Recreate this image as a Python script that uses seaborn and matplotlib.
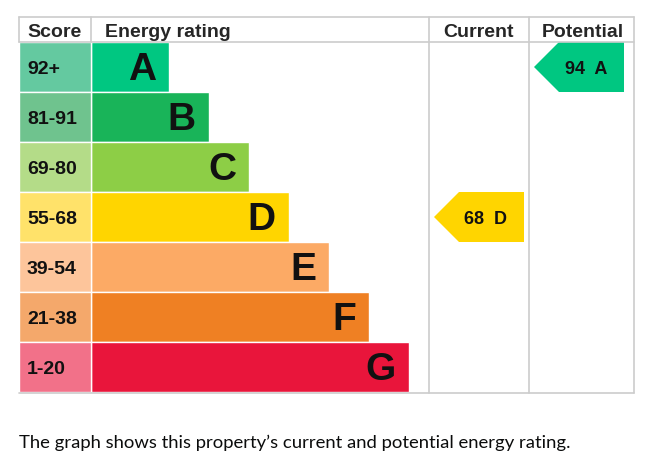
import matplotlib
matplotlib.use("Agg")
import matplotlib.pyplot as plt
import seaborn as sns
from matplotlib.patches import Polygon

# EPC bands
ratings = ["A", "B", "C", "D", "E", "F", "G"]
score_ranges = ["92+", "81-91", "69-80", "55-68", "39-54", "21-38", "1-20"]
band_low = [92, 81, 69, 55, 39, 21, 1]
bar_length = [78, 118, 158, 198, 238, 278, 318]
bar_colors = ["#00c781", "#19b459", "#8dce46", "#ffd500", "#fcaa65", "#ef8023", "#e9153b"]
score_colors = ["#64c9a0", "#6fc38e", "#b4dc88", "#ffe26a", "#fdc59b", "#f4a86b", "#f27189"]

current_score = 68
potential_score = 94

grid_color = "#cccccc"


def band_of(score):
    for i, low in enumerate(band_low):
        if score >= low:
            return i
    return len(band_low) - 1


sns.set_theme(style="white")
plt.rcParams["font.family"] = ["Liberation Sans", "DejaVu Sans"]

fig = plt.figure(figsize=(6.56, 4.68), dpi=100)
# table area: x 19..634 px, y 17..392 px
ax = fig.add_axes([19 / 656, 1 - 392 / 468, 615 / 656, 375 / 468])

df_bars = {"rating": ratings, "length": bar_length}
sns.barplot(data=df_bars, x="length", y="rating", hue="rating", order=ratings,
            palette=bar_colors, saturation=1, width=1.0, legend=False,
            orient="h", ax=ax)

# score column
ax.barh(range(len(ratings)), 72, left=-72, height=1.0, color=score_colors)

ax.set_xlim(-72, 543)
ax.set_ylim(6.5, -1.0)
ax.set_axis_off()

# grid lines
lw = 1.2
ax.plot([-72, 543], [-1.0, -1.0], color=grid_color, lw=lw, clip_on=False)
ax.plot([-72, 543], [-0.5, -0.5], color=grid_color, lw=lw, clip_on=False)
ax.plot([-72, 543], [6.52, 6.52], color=grid_color, lw=lw, clip_on=False)
for xv in [-72, 0]:
    ax.plot([xv, xv], [-1.0, -0.5], color=grid_color, lw=lw, clip_on=False)
for xv in [338, 438, 543]:
    ax.plot([xv, xv], [-1.0, 6.52], color=grid_color, lw=lw, clip_on=False)

# headers
hy = -0.69
ax.text(-64, hy, "Score", fontsize=14, fontweight="bold", va="center", ha="left")
ax.text(14, hy, "Energy rating", fontsize=14, fontweight="bold", va="center", ha="left")
ax.text(388, hy, "Current", fontsize=14, fontweight="bold", va="center", ha="center")
ax.text(492, hy, "Potential", fontsize=14, fontweight="bold", va="center", ha="center")

# row labels
for i, (rng, r, ln) in enumerate(zip(score_ranges, ratings, bar_length)):
    ax.text(-64, i + 0.04, rng, fontsize=14, fontweight="bold", va="center", ha="left",
            color="#111111")
    ax.text(ln - 13, i + 0.05, r, fontsize=28, fontweight="bold", va="center", ha="right",
            color="#111111")


def rating_arrow(col_left, score):
    i = band_of(score)
    x0 = col_left + 5
    x1 = x0 + 90
    tip = 25
    pts = [(x0, i), (x0 + tip, i - 0.5), (x1, i - 0.5), (x1, i + 0.5), (x0 + tip, i + 0.5)]
    ax.add_patch(Polygon(pts, closed=True, color=bar_colors[i], lw=0))
    ax.text((x0 + x1) / 2 + 7, i + 0.04, f"{score}  {ratings[i]}", fontsize=13,
            fontweight="bold", va="center", ha="center", color="#111111")


rating_arrow(338, current_score)
rating_arrow(438, potential_score)

fig.text(19 / 656, 1 - 448 / 468,
         "The graph shows this property\u2019s current and potential energy rating.",
         fontsize=13.3, family=["Lato", "DejaVu Sans"], color="#0b0c0c", va="baseline", ha="left")

fig.savefig("out.png", dpi=100)
